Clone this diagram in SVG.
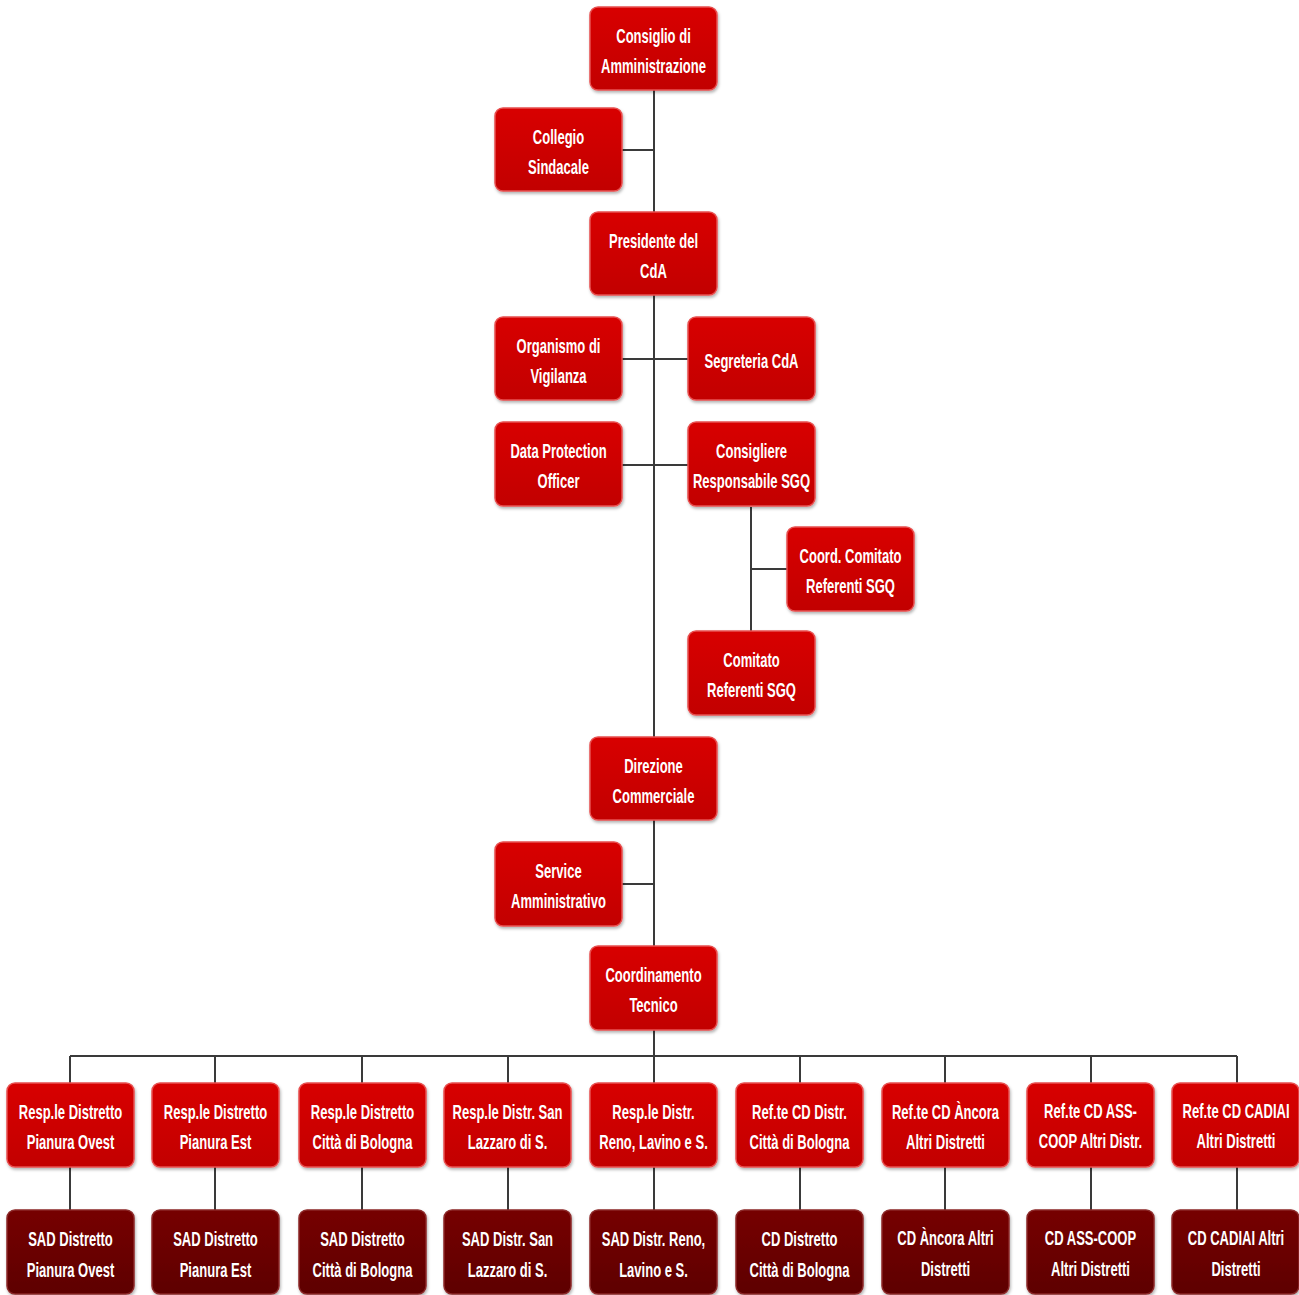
<svg xmlns="http://www.w3.org/2000/svg" width="1299" height="1295" viewBox="0 0 1299 1295">
<defs>
<linearGradient id="gr" x1="0" y1="0" x2="0" y2="1"><stop offset="0" stop-color="#d80000"/><stop offset="1" stop-color="#c20000"/></linearGradient>
<linearGradient id="gd" x1="0" y1="0" x2="0" y2="1"><stop offset="0" stop-color="#760000"/><stop offset="1" stop-color="#5e0000"/></linearGradient>
<filter id="sh" x="-10%" y="-10%" width="125%" height="130%"><feDropShadow dx="1" dy="2" stdDeviation="1.5" flood-color="#000" flood-opacity="0.3"/></filter>
</defs>
<style>
.r{fill:url(#gr);stroke:#e85050;stroke-width:1.5;filter:url(#sh)}
.d{fill:url(#gd);stroke:#8c2a2a;stroke-width:1.5;filter:url(#sh)}
text{font-family:"Liberation Sans",Arial,sans-serif;font-weight:bold;font-size:21px;fill:#fff;text-anchor:middle}
.c line,.c path{stroke:#3a3a3a;stroke-width:2;fill:none}
</style>
<rect width="1299" height="1295" fill="#fff"/>
<g class="c" id="connectors">
<line x1="654" y1="90" x2="654" y2="946"/>
<line x1="622" y1="150" x2="654" y2="150"/>
<line x1="622" y1="359" x2="688" y2="359"/>
<line x1="622" y1="465" x2="688" y2="465"/>
<line x1="751" y1="507" x2="751" y2="631"/>
<line x1="751" y1="569" x2="787" y2="569"/>
<line x1="622" y1="884" x2="654" y2="884"/>
<line x1="654" y1="1030" x2="654" y2="1056"/>
<line x1="70" y1="1056" x2="1237" y2="1056"/>
<path d="M70 1056V1083M215 1056V1083M362 1056V1083M508 1056V1083M654 1056V1083M800 1056V1083M945 1056V1083M1091 1056V1083M1237 1056V1083"/>
<path d="M70 1167V1210M215 1167V1210M362 1167V1210M508 1167V1210M654 1167V1210M800 1167V1210M945 1167V1210M1091 1167V1210M1237 1167V1210"/>
</g>
<g id="n1"><rect class="r" x="590" y="7" width="127" height="83" rx="8"/><g transform="translate(653.5,0) scale(0.62,1)"><text y="43">Consiglio di</text><text y="73">Amministrazione</text></g></g>
<g id="n2"><rect class="r" x="495" y="108" width="127" height="83" rx="8"/><g transform="translate(558.5,0) scale(0.62,1)"><text y="144">Collegio</text><text y="174">Sindacale</text></g></g>
<g id="n3"><rect class="r" x="590" y="212" width="127" height="83" rx="8"/><g transform="translate(653.5,0) scale(0.62,1)"><text y="248">Presidente del</text><text y="278">CdA</text></g></g>
<g id="n4"><rect class="r" x="495" y="317" width="127" height="83" rx="8"/><g transform="translate(558.5,0) scale(0.62,1)"><text y="353">Organismo di</text><text y="383">Vigilanza</text></g></g>
<g id="n5"><rect class="r" x="688" y="317" width="127" height="83" rx="8"/><g transform="translate(751.5,0) scale(0.62,1)"><text y="368">Segreteria CdA</text></g></g>
<g id="n6"><rect class="r" x="495" y="422" width="127" height="84" rx="8"/><g transform="translate(558.5,0) scale(0.62,1)"><text y="458">Data Protection</text><text y="488">Officer</text></g></g>
<g id="n7"><rect class="r" x="688" y="422" width="127" height="84" rx="8"/><g transform="translate(751.5,0) scale(0.62,1)"><text y="458">Consigliere</text><text y="488">Responsabile SGQ</text></g></g>
<g id="n8"><rect class="r" x="787" y="527" width="127" height="84" rx="8"/><g transform="translate(850.5,0) scale(0.62,1)"><text y="563">Coord. Comitato</text><text y="593">Referenti SGQ</text></g></g>
<g id="n9"><rect class="r" x="688" y="631" width="127" height="84" rx="8"/><g transform="translate(751.5,0) scale(0.62,1)"><text y="667">Comitato</text><text y="697">Referenti SGQ</text></g></g>
<g id="n10"><rect class="r" x="590" y="737" width="127" height="83" rx="8"/><g transform="translate(653.5,0) scale(0.62,1)"><text y="773">Direzione</text><text y="803">Commerciale</text></g></g>
<g id="n11"><rect class="r" x="495" y="842" width="127" height="84" rx="8"/><g transform="translate(558.5,0) scale(0.62,1)"><text y="878">Service</text><text y="908">Amministrativo</text></g></g>
<g id="n12"><rect class="r" x="590" y="946" width="127" height="84" rx="8"/><g transform="translate(653.5,0) scale(0.62,1)"><text y="982">Coordinamento</text><text y="1012">Tecnico</text></g></g>
<g id="n13"><rect class="r" x="7" y="1083" width="127" height="84" rx="8"/><g transform="translate(70.5,0) scale(0.62,1)"><text y="1119">Resp.le Distretto</text><text y="1149">Pianura Ovest</text></g></g>
<g id="n14"><rect class="r" x="152" y="1083" width="127" height="84" rx="8"/><g transform="translate(215.5,0) scale(0.62,1)"><text y="1119">Resp.le Distretto</text><text y="1149">Pianura Est</text></g></g>
<g id="n15"><rect class="r" x="299" y="1083" width="127" height="84" rx="8"/><g transform="translate(362.5,0) scale(0.62,1)"><text y="1119">Resp.le Distretto</text><text y="1149">Città di Bologna</text></g></g>
<g id="n16"><rect class="r" x="444" y="1083" width="127" height="84" rx="8"/><g transform="translate(507.5,0) scale(0.62,1)"><text y="1119">Resp.le Distr. San</text><text y="1149">Lazzaro di S.</text></g></g>
<g id="n17"><rect class="r" x="590" y="1083" width="127" height="84" rx="8"/><g transform="translate(653.5,0) scale(0.62,1)"><text y="1119">Resp.le Distr.</text><text y="1149">Reno, Lavino e S.</text></g></g>
<g id="n18"><rect class="r" x="736" y="1083" width="127" height="84" rx="8"/><g transform="translate(799.5,0) scale(0.62,1)"><text y="1119">Ref.te CD Distr.</text><text y="1149">Città di Bologna</text></g></g>
<g id="n19"><rect class="r" x="882" y="1083" width="127" height="84" rx="8"/><g transform="translate(945.5,0) scale(0.62,1)"><text y="1119">Ref.te CD Àncora</text><text y="1149">Altri Distretti</text></g></g>
<g id="n20"><rect class="r" x="1027" y="1083" width="127" height="84" rx="8"/><g transform="translate(1090.5,0) scale(0.62,1)"><text y="1118">Ref.te CD ASS-</text><text y="1148">COOP Altri Distr.</text></g></g>
<g id="n21"><rect class="r" x="1172" y="1083" width="127" height="84" rx="8"/><g transform="translate(1236,0) scale(0.62,1)"><text y="1118">Ref.te CD CADIAI</text><text y="1148">Altri Distretti</text></g></g>
<g id="n22"><rect class="d" x="7" y="1210" width="127" height="84" rx="8"/><g transform="translate(70.5,0) scale(0.62,1)"><text y="1246">SAD Distretto</text><text y="1277">Pianura Ovest</text></g></g>
<g id="n23"><rect class="d" x="152" y="1210" width="127" height="84" rx="8"/><g transform="translate(215.5,0) scale(0.62,1)"><text y="1246">SAD Distretto</text><text y="1277">Pianura Est</text></g></g>
<g id="n24"><rect class="d" x="299" y="1210" width="127" height="84" rx="8"/><g transform="translate(362.5,0) scale(0.62,1)"><text y="1246">SAD Distretto</text><text y="1277">Città di Bologna</text></g></g>
<g id="n25"><rect class="d" x="444" y="1210" width="127" height="84" rx="8"/><g transform="translate(507.5,0) scale(0.62,1)"><text y="1246">SAD Distr. San</text><text y="1277">Lazzaro di S.</text></g></g>
<g id="n26"><rect class="d" x="590" y="1210" width="127" height="84" rx="8"/><g transform="translate(653.5,0) scale(0.62,1)"><text y="1246">SAD Distr. Reno,</text><text y="1277">Lavino e S.</text></g></g>
<g id="n27"><rect class="d" x="736" y="1210" width="127" height="84" rx="8"/><g transform="translate(799.5,0) scale(0.62,1)"><text y="1246">CD Distretto</text><text y="1277">Città di Bologna</text></g></g>
<g id="n28"><rect class="d" x="882" y="1210" width="127" height="84" rx="8"/><g transform="translate(945.5,0) scale(0.62,1)"><text y="1245">CD Àncora Altri</text><text y="1276">Distretti</text></g></g>
<g id="n29"><rect class="d" x="1027" y="1210" width="127" height="84" rx="8"/><g transform="translate(1090.5,0) scale(0.62,1)"><text y="1245">CD ASS-COOP</text><text y="1276">Altri Distretti</text></g></g>
<g id="n30"><rect class="d" x="1172" y="1210" width="127" height="84" rx="8"/><g transform="translate(1236,0) scale(0.62,1)"><text y="1245">CD CADIAI Altri</text><text y="1276">Distretti</text></g></g>
</svg>
